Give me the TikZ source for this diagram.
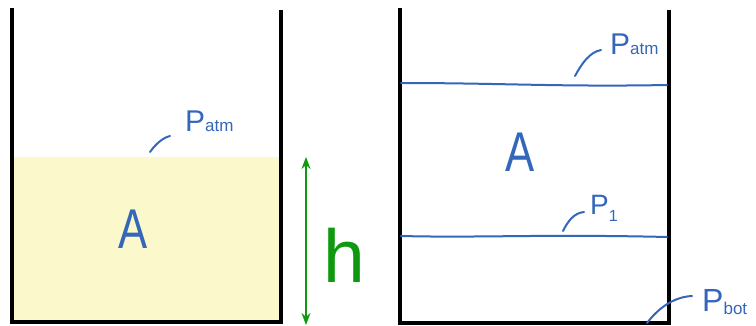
\documentclass[tikz,border=0pt]{standalone}
\usepackage{fontspec}
\setmainfont{Liberation Sans}
\usetikzlibrary{arrows.meta}
\definecolor{inkblue}{HTML}{3466BA}
\definecolor{water}{HTML}{FBF9CC}
\definecolor{hgreen}{HTML}{0E990E}
\begin{document}
\begin{tikzpicture}[x=1pt,y=-1pt,
  wall/.style={line width=3.5pt, black},
  inkline/.style={line width=2pt, draw=inkblue, line cap=round},
  lbl/.style={text=inkblue, inner sep=0pt, anchor=base west},
  bigA/.style={text=inkblue, inner sep=0pt, anchor=base, xscale=0.78, font=\fontsize{56}{56}\selectfont}]
\useasboundingbox (0,0) rectangle (756,326);
% ---- left tank ----
\fill[water] (12,157) rectangle (281,322);
\draw[wall] (12,8) -- (12,322) -- (281,322) -- (281,10);
\node[bigA] (Aleft) at (133,248) {A};
\node[lbl] (patmL) at (185,132) {\fontsize{30}{30}\selectfont P\fontsize{17}{17}\selectfont atm};
\coordinate (patmLfoot) at (150,152);
\coordinate (patmLhead) at (170,136);
\draw[inkline] (patmLfoot) .. controls (155,145) and (162,138) .. (patmLhead);
% height arrow
\coordinate (hTop) at (306,157);
\coordinate (hBot) at (306,325);
\draw[hgreen, line width=1.5pt, {Stealth[length=12pt,width=9pt]}-{Stealth[length=12pt,width=9pt]}] (hTop) -- (hBot);
\node[text=hgreen, inner sep=0pt, anchor=base west, font=\fontsize{75}{75}\selectfont] (hlbl) at (323,283) {h};
% ---- right tank ----
\draw[wall] (400,8) -- (400,323) -- (669,323) -- (669,10);
\coordinate (topL) at (401,83);
\coordinate (topR) at (667,85);
\draw[inkline] (topL) .. controls (500,83) and (560,87) .. (topR);
\coordinate (midL) at (401,236);
\coordinate (midR) at (667,237);
\draw[inkline] (midL) .. controls (480,238) and (540,234) .. (midR);
\node[bigA] (Aright) at (520,172) {A};
\node[lbl] (patmR) at (610,55) {\fontsize{30}{30}\selectfont P\fontsize{17}{17}\selectfont atm};
\coordinate (patmRfoot) at (575,76);
\coordinate (patmRhead) at (601,50);
\draw[inkline] (patmRfoot) .. controls (582,63) and (590,52) .. (patmRhead);
\node[lbl] (p1) at (590,215) {\fontsize{28}{28}\selectfont P\raisebox{-6pt}{\fontsize{16}{16}\selectfont 1}};
\coordinate (p1foot) at (563,231);
\coordinate (p1head) at (584,212);
\draw[inkline] (p1foot) .. controls (568,221) and (574,213) .. (p1head);
\node[lbl] (pbot) at (702,312) {\fontsize{32}{32}\selectfont P\raisebox{-3pt}{\fontsize{17}{17}\selectfont bot}};
\coordinate (pbotfoot) at (647,323);
\coordinate (pbothead) at (692,296);
\draw[inkline] (pbotfoot) .. controls (657,310) and (672,297) .. (pbothead);
\end{tikzpicture}
\end{document}
